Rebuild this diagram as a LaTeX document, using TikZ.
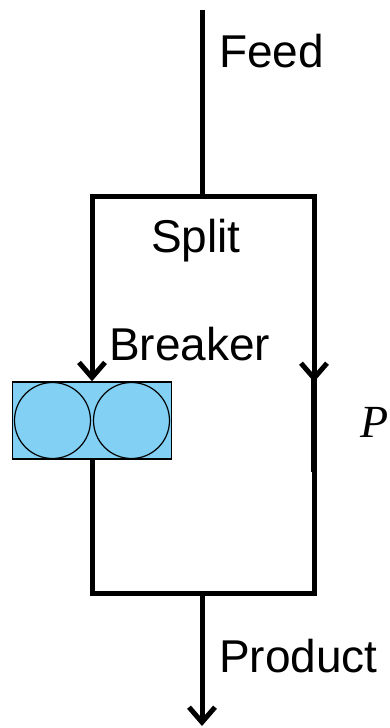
\documentclass[tikz,border=0pt]{standalone}
\usepackage{fontspec}
\setmainfont{Liberation Sans}
\newfontfamily\symfont{Liberation Serif}
\usepackage{xcolor}
\usetikzlibrary{arrows.meta}

\definecolor{rollblue}{HTML}{82D0F4}

\begin{document}
\begin{tikzpicture}[x=1pt, y=-1pt,
    flow/.style={line width=5pt},
    arr/.style={line width=5pt, -{Straight Barb[length=15pt, width=26pt]}},
    lbl/.style={font=\fontsize{46}{50}\selectfont, inner sep=0pt, anchor=base west},
    breaker/.style={draw, line width=1.5pt, fill=rollblue, minimum width=159pt, minimum height=77pt, inner sep=0pt},
    roll/.style={circle, draw, line width=1.2pt, minimum size=76pt, inner sep=0pt},
]
\useasboundingbox (0,0) rectangle (389,728);

% Streams
\coordinate (feed) at (202,10);
\coordinate (split) at (202,196);
\coordinate (pTop) at (314,382);
\coordinate (pBot) at (314,472);
\coordinate (mix) at (202,593);
\coordinate (prod) at (202,726);

% Breaker with two rolls
\node[breaker] (brk) at (92,420.5) {};
\node[roll] (rollL) at (52.5,420.5) {};
\node[roll] (rollR) at (131.5,420.5) {};

% Labels
\node[lbl] (feedLbl) at (219,67) {Feed};
\node[lbl] (splitLbl) at (151,252) {Split};
\node[lbl] (brkLbl) at (109,360) {Breaker};
\node[lbl] (pLbl) at (360,437) {\symfont\itshape P};
\node[lbl] (prodLbl) at (219,672) {Product};

% Lines
\draw[flow] (feed) -- (split);
\draw[arr] (split) -| (brk.north);
\draw[arr] (split) -| (pTop);
\draw[line width=6pt] ([yshift=4pt]pTop) -- (pBot);
\draw[flow] (brk.south) |- (mix) -| (pBot);
\draw[arr] (mix) -- (prod);

\end{tikzpicture}
\end{document}
